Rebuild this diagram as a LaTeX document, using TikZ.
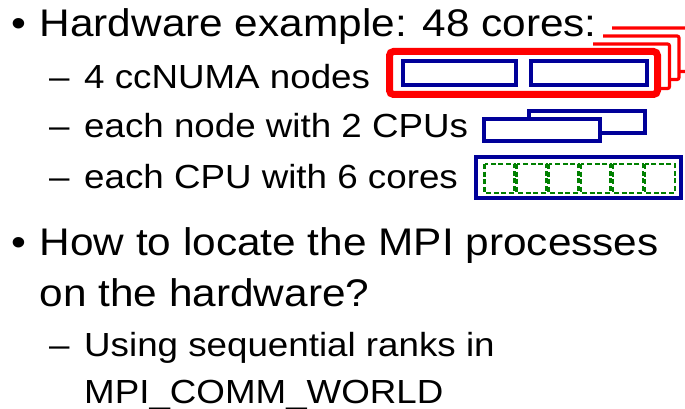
\documentclass[tikz,border=0pt]{standalone}
\usepackage{fontspec}
\setmainfont{Liberation Sans}[FakeStretch=1.1]
\definecolor{nodered}{RGB}{255,0,0}
\definecolor{cpublue}{RGB}{0,0,153}
\definecolor{coregreen}{RGB}{0,128,0}
\tikzset{
  main/.style={anchor=base west, inner sep=0pt, font=\fontsize{38.5}{46}\selectfont},
  sub/.style={anchor=base west, inner sep=0pt, font=\fontsize{33.4}{40}\selectfont},
  numabox/.style={draw=nodered, line width=7pt, rounded corners=4pt, fill=white},
  numaback/.style={draw=nodered, line width=3.2pt, rounded corners=2pt},
  cpubox/.style={draw=cpublue, line width=4pt, fill=white},
  corebox/.style={draw=coregreen, line width=2.3pt, dash pattern=on 5pt off 2.6pt},
}
\begin{document}
\begin{tikzpicture}[x=1pt,y=-1pt]
\useasboundingbox (0,0) rectangle (685,409);
\clip (0,0) rectangle (685,409);

% bullet list
\node[main] (b1) at (11,37) {•};
\node[main] (t1) at (39.5,37) {Hardware example: 48 cores:};
\node[sub]  (d2) at (49,89) {–};
\node[sub]  (t2) at (84,89) {4 ccNUMA nodes};
\node[sub]  (d3) at (49,138) {–};
\node[sub]  (t3) at (84,138) {each node with 2 CPUs};
\node[sub]  (d4) at (49,188) {–};
\node[sub]  (t4) at (84,188) {each CPU with 6 cores};
\node[main] (b5) at (11,255) {•};
\node[main] (t5) at (39.5,255) {How to locate the MPI processes};
\node[main] (t6) at (39.5,306.5) {on the hardware?};
\node[sub]  (d7) at (49,356) {–};
\node[sub]  (t7) at (84,356) {Using sequential ranks in};
\node[sub]  (t8) at (84,403.3) {MPI\_COMM\_WORLD};

% stack of four ccNUMA nodes (back ones peek out)
\draw[numaback] (612,28) -- (689,28) -- (689,71.5) -- (679,71.5);
\draw[numaback] (603,36) -- (679,36) -- (679,79.5) -- (669.5,79.5);
\draw[numaback] (593,44) -- (669.5,44) -- (669.5,88.5) -- (657.5,88.5);
\draw[numabox] (389.5,51.5) rectangle (657.5,94.5);
\draw[cpubox] (403,61.5) rectangle (516,85.5);
\draw[cpubox] (531,61.5) rectangle (647,85.5);

% two CPUs per node
\draw[cpubox] (529.3,111.3) rectangle (645.3,133);
\draw[cpubox] (483.7,118.7) rectangle (600.3,141.3);

% six cores per CPU
\draw[cpubox] (476,157) rectangle (681,198);
\foreach \i in {0,...,5}
  \draw[corebox] ({484.5+32.07*\i},164) rectangle ({482.3+32.07*(\i+1)},193);
\end{tikzpicture}
\end{document}
